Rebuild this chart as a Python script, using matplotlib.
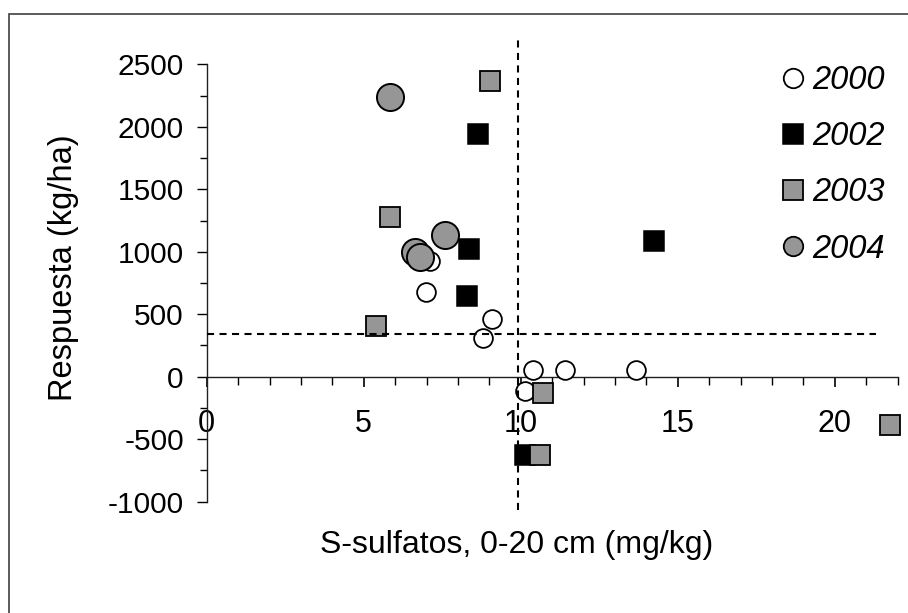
import matplotlib
matplotlib.use("Agg")
import matplotlib.pyplot as plt
from matplotlib.lines import Line2D
from matplotlib.patches import Rectangle
from matplotlib.ticker import MultipleLocator

plt.rcParams['font.family'] = ['Liberation Sans', 'DejaVu Sans']
plt.rcParams['axes.unicode_minus'] = False

# S-sulfatos (mg/kg) vs respuesta (kg/ha), por año
x_2000 = [7.1, 6.98, 9.08, 8.81, 10.4, 11.41, 13.66, 10.14]
y_2000 = [930, 675, 459, 307, 54, 54, 54, -112]

x_2002 = [8.63, 8.36, 8.28, 14.25, 10.14]
y_2002 = [1939, 1019, 646, 1088, -626]

x_2003 = [9.02, 5.85, 5.38, 10.72, 10.61, 21.77]
y_2003 = [2368, 1275, 408, -133, -626, -386]

x_2004 = [5.84, 7.59, 6.63, 6.79]
y_2004 = [2240, 1134, 1000, 960]

# umbrales (líneas de corte)
x_umbral = 9.9
y_umbral = 345

gris = '#969696'

fig = plt.figure(figsize=(9.08, 6.13), dpi=100)
ax = fig.add_axes([206.7 / 908, (613 - 501.7) / 613, 690.8 / 908, 437.4 / 613])

ax.plot(x_2000, y_2000, 'o', ms=13.5, mfc='white', mec='black', mew=1.3, clip_on=False, zorder=3)
ax.plot(x_2002, y_2002, 's', ms=14, mfc='black', mec='black', mew=1.1, clip_on=False, zorder=3)
ax.plot(x_2003, y_2003, 's', ms=14, mfc=gris, mec='black', mew=1.3, clip_on=False, zorder=3)
ax.plot(x_2004, y_2004, 'o', ms=19.5, mfc=gris, mec='black', mew=1.4, clip_on=False, zorder=3)

# líneas punteadas
ax.plot([x_umbral, x_umbral], [-1070, 2720], color='black', lw=1.5,
        linestyle=(0, (3.4, 2.6)), clip_on=False, zorder=4)
ax.plot([0, 21.3], [y_umbral, y_umbral], color='black', lw=1.5,
        linestyle=(0, (3.4, 2.6)), clip_on=False, zorder=4)

ax.set_xlim(0, 22)
ax.set_ylim(-1000, 2500)
ax.spines['top'].set_visible(False)
ax.spines['right'].set_visible(False)
ax.spines['bottom'].set_position(('data', 0))
for s in ['left', 'bottom']:
    ax.spines[s].set_linewidth(1.0)
    ax.spines[s].set_color('#202020')

ax.xaxis.set_major_locator(MultipleLocator(5))
ax.xaxis.set_minor_locator(MultipleLocator(1))
ax.yaxis.set_major_locator(MultipleLocator(500))
ax.yaxis.set_minor_locator(MultipleLocator(250))
ax.tick_params(axis='x', which='major', direction='out', length=7, width=1.2, pad=16.5, labelsize=22)
ax.tick_params(axis='x', which='minor', direction='out', length=6, width=1.0)
ax.tick_params(axis='y', which='major', direction='out', length=7, width=1.0, pad=9.5, labelsize=21.5)
ax.tick_params(axis='y', which='minor', direction='out', length=5, width=1.0)

ax.set_xlabel('S-sulfatos, 0-20 cm (mg/kg)', fontsize=23, va='center')
ax.xaxis.set_label_coords(0.449, -0.099)
ax.set_ylabel('Respuesta (kg/ha)', fontsize=23.5, va='center')
ax.yaxis.set_label_coords(-0.207, 0.535)

handles = [
    Line2D([], [], marker='o', ls='none', ms=14, mfc='white', mec='black', mew=1.3),
    Line2D([], [], marker='s', ms=14, ls='none', mfc='black', mec='black', mew=1.1),
    Line2D([], [], marker='s', ms=14, ls='none', mfc=gris, mec='black', mew=1.3),
    Line2D([], [], marker='o', ms=14, ls='none', mfc=gris, mec='black', mew=1.3),
]
labels = ['2000', '2002', '2003', '2004']
leg = ax.legend(handles, labels, loc='upper left', bbox_to_anchor=(0.8157, 1.028),
                frameon=False, handlelength=0.6, handletextpad=0.3, labelspacing=0.77,
                borderaxespad=0, prop={'size': 23.5, 'style': 'italic'})

# marco exterior (sólo izquierda y arriba visibles)
fig.patches.append(Rectangle((9 / 908, -0.1), 1.2, 1.1 - 14 / 613, transform=fig.transFigure,
                             fill=False, ec='#404040', lw=1.2))

fig.savefig('out.png', dpi=100)
